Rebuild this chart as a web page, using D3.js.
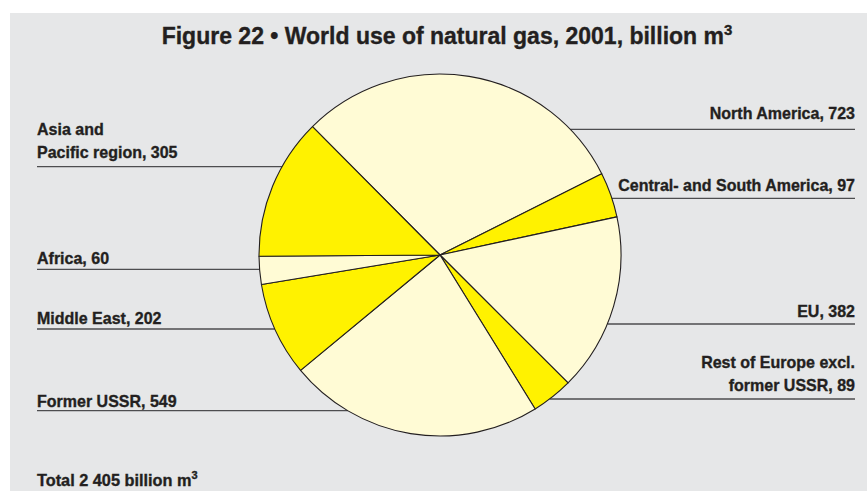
<!DOCTYPE html>
<html><head><meta charset="utf-8">
<script src="https://cdn.jsdelivr.net/npm/d3@7"></script>
<style>html,body{margin:0;padding:0;background:#fff;}svg{display:block;}</style>
</head><body>
<svg id="c" width="867" height="491"></svg>
<script>
// ---- data ----
const categories = ["North America","Central- and South America","EU","Rest of Europe excl. former USSR","Former USSR","Middle East","Africa","Asia and Pacific region"];
const values = [723, 97, 382, 89, 549, 202, 60, 305];
const labelLines = [["North America, 723"],["Central- and South America, 97"],["EU, 382"],["Rest of Europe excl.","former USSR, 89"],["Former USSR, 549"],["Middle East, 202"],["Africa, 60"],["Asia and","Pacific region, 305"]];
const titleText = "Figure 22 \u2022 World use of natural gas, 2001, billion m";
const totalText = "Total 2 405 billion m";

// ---- layout ----
const W = 867, H = 491;
const cx = 440, cy = 255, R = 181;
const startDeg = -44.8;
const svg = d3.select("#c");
const ink = "#231f20";
const font = "'Liberation Sans', Arial, Helvetica, sans-serif";

svg.append("rect").attr("x",10).attr("y",13).attr("width",W-10).attr("height",H-13).attr("fill","#e6e7e8");

const color = d3.scaleOrdinal().domain(categories)
  .range(["#fffbd5","#fff200"]);

const pie = d3.pie().sort(null).value(d=>d)
  .startAngle(startDeg*Math.PI/180).endAngle(startDeg*Math.PI/180 + 2*Math.PI);
const arcs = pie(values);
const arc = d3.arc().innerRadius(0).outerRadius(R);

const lay = [
  {side:"r", ly:129.3, bl:[119.3]},
  {side:"r", ly:198.3, bl:[191]},
  {side:"r", ly:324, bl:[317.3]},
  {side:"r", ly:399, bl:[368,390.7]},
  {side:"l", ly:410.7, bl:[406.7]},
  {side:"l", ly:329, bl:[324]},
  {side:"l", ly:269.3, bl:[264]},
  {side:"l", ly:166.7, bl:[135,158]}
];
const xL = 37, xR = 855;
const edgeX = (y, side) => { const dy = y-cy; const dx = Math.sqrt(Math.max(0,R*R-dy*dy)); return side==="r" ? cx+dx : cx-dx; };

const gl = svg.append("g");
lay.forEach((l,i)=>{
  const x1 = l.side==="r" ? edgeX(l.ly,"r") : xL;
  const x2 = l.side==="r" ? xR : edgeX(l.ly,"l");
  gl.append("line").attr("x1",x1).attr("x2",x2).attr("y1",l.ly).attr("y2",l.ly)
    .attr("stroke","#4d4d4f").attr("stroke-width",1.3);
});

svg.append("g").attr("transform",`translate(${cx},${cy})`)
  .selectAll("path").data(arcs).join("path")
  .attr("d",arc).attr("fill",(d,i)=>color(categories[i]))
  .attr("stroke",ink).attr("stroke-width",1.1).attr("stroke-linejoin","round");

function heavy(sel){ return sel.attr("fill",ink).attr("stroke",ink).attr("stroke-width",0.35).attr("paint-order","stroke"); }

// labels
const sx = 0.97;
lay.forEach((l,i)=>{
  labelLines[i].forEach((t,j)=>{
    const x = l.side==="r" ? xR : xL;
    heavy(svg.append("text").attr("transform",`translate(${x},${l.bl[j]}) scale(${sx},1)`)
      .attr("text-anchor", l.side==="r" ? "end" : "start")
      .attr("font-family",font).attr("font-weight","bold").attr("font-size",16.5))
      .text(t);
  });
});

// title
const tt = heavy(svg.append("text").attr("transform",`translate(447,43.5)`)
  .attr("text-anchor","middle").attr("font-family",font).attr("font-weight","bold")
  .attr("font-size",23));
tt.append("tspan").text(titleText);
tt.append("tspan").attr("font-size",15).attr("dy",-9).text("3");

// total
const tot = heavy(svg.append("text").attr("transform",`translate(${xL},486)`)
  .attr("font-family",font).attr("font-weight","bold").attr("font-size",16.3));
tot.append("tspan").text(totalText);
tot.append("tspan").attr("font-size",11).attr("dy",-7).text("3");
</script>
</body></html>
